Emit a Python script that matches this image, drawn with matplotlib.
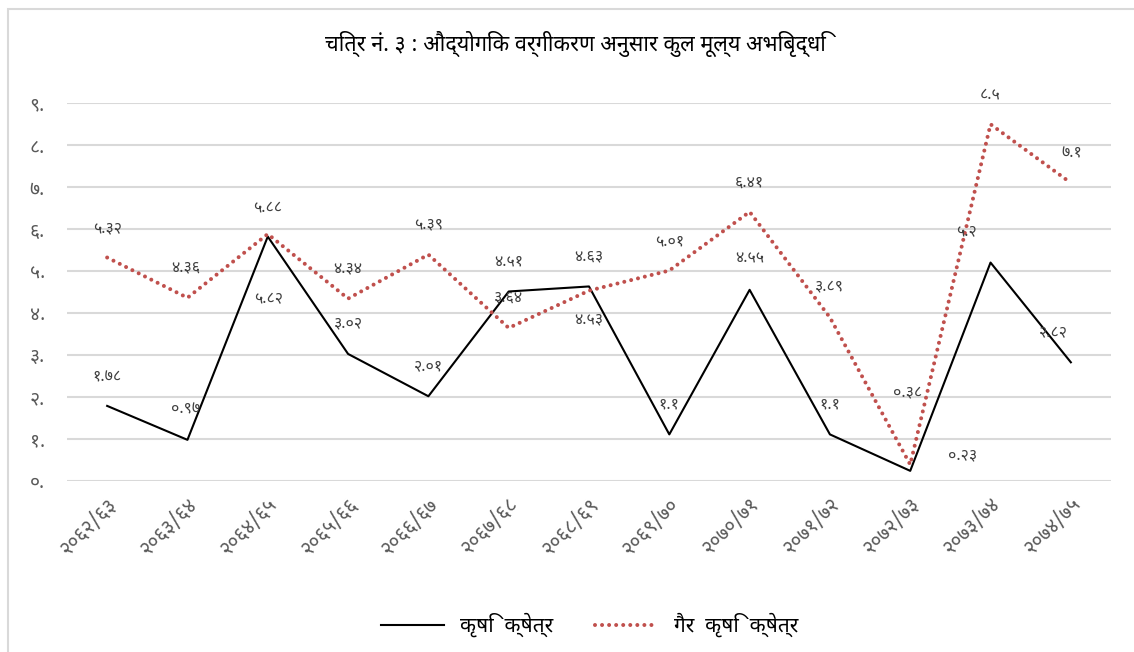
import matplotlib
matplotlib.use("Agg")
import matplotlib.pyplot as plt
import matplotlib.transforms as mtransforms
from matplotlib import font_manager
from matplotlib.patches import Rectangle

# data
years = ['२०६२/६३', '२०६३/६४', '२०६४/६५', '२०६५/६६', '२०६६/६७', '२०६७/६८', '२०६८/६९',
         '२०६९/७०', '२०७०/७१', '२०७१/७२', '२०७२/७३', '२०७३/७४', '२०७४/७५']
krishi = [1.78, 0.97, 5.82, 3.02, 2.01, 4.51, 4.63, 1.1, 4.55, 1.1, 0.23, 5.2, 2.82]
gair_krishi = [5.32, 4.36, 5.88, 4.34, 5.39, 3.64, 4.53, 5.01, 6.41, 3.89, 0.38, 8.5, 7.1]
yticks = list(range(0, 10))

title = 'चित्र नं. ३ : औद्योगिक वर्गीकरण अनुसार कुल मूल्य अभिबृद्धि'
label_krishi = 'कृषि  क्षेत्र'
label_gair = 'गैर  कृषि  क्षेत्र'

# label offsets in pixels (dx, dy)
off_krishi = [(0, 29), (-2, 30), (1, -63), (0, 31), (0, 30), (0, 30), (0, 30),
              (0, 30), (0, 31), (0, 30), (52, 16), (-24, 31), (-17, 29)]
off_gair = [(0, 29), (-2, 30), (0, 27), (0, 30), (0, 30), (0, 31), (0, -29),
            (0, 29), (0, 29), (0, 30), (-3, 71), (0, 30), (1, 30)]

DIG = str.maketrans('0123456789', '०१२३४५६७८९')


def deva(v):
    return str(v).translate(DIG)


available = {f.name for f in font_manager.fontManager.ttflist}
prefs = ['Noto Sans Devanagari', 'Hind', 'Mukta', 'Yantramanav', 'Ek Mukta', 'Annapurna SIL']
font = [p for p in prefs if p in available][:1]
plt.rcParams['font.family'] = font + ['DejaVu Sans']

W, H = 1134, 652
fig = plt.figure(figsize=(W / 100, H / 100), dpi=100)
ax = fig.add_axes([67 / W, 1 - 480.5 / H, (1111 - 67) / W, (480.5 - 103.3) / H])

x = list(range(len(years)))
ax.plot(x, krishi, color='black', lw=1.5, label=label_krishi)
ax.plot(x, gair_krishi, color='#C0504D', lw=2.9, linestyle=(0, (0.001, 1.75)),
        dash_capstyle='round', label=label_gair)

for i in x:
    ax.annotate(deva(krishi[i]), (i, krishi[i]), xytext=off_krishi[i], textcoords='offset pixels',
                ha='center', va='center', fontsize=11.5, color='#404040')
    ax.annotate(deva(gair_krishi[i]), (i, gair_krishi[i]), xytext=off_gair[i], textcoords='offset pixels',
                ha='center', va='center', fontsize=11.5, color='#404040')

ax.set_xlim(-0.5, len(years) - 0.5)
ax.set_ylim(0, 9)
ax.set_yticks(yticks)
ax.set_yticklabels([deva(t) + '.' for t in yticks], fontsize=14, color='#595959')
ax.set_xticks(x)
ax.set_xticklabels(years, rotation=45, ha='right', rotation_mode='anchor',
                   fontsize=14.5, color='#595959')
shift = mtransforms.ScaledTranslation(-5 / 100, 0, fig.dpi_scale_trans)
for lab in ax.get_xticklabels():
    lab.set_transform(lab.get_transform() + shift)
ax.tick_params(length=0, axis='y', pad=16)
ax.tick_params(length=0, axis='x', pad=10)
ax.grid(axis='y', color='#d9d9d9', lw=1.5)
ax.set_axisbelow(True)
for s in ax.spines.values():
    s.set_visible(False)

fig.text(575 / W, 1 - 44 / H, title, ha='center', va='center', fontsize=15.5, color='black')
fig.legend(loc='center', bbox_to_anchor=(590 / W, 1 - 625 / H), ncol=2, frameon=False,
           fontsize=15, handlelength=3, columnspacing=2)

fig.add_artist(Rectangle((8 / W, -0.1), 1.2, 1.1 - 9 / H, transform=fig.transFigure,
                         fill=False, edgecolor='#d9d9d9', lw=1.5))

fig.savefig('out.png', dpi=100)
